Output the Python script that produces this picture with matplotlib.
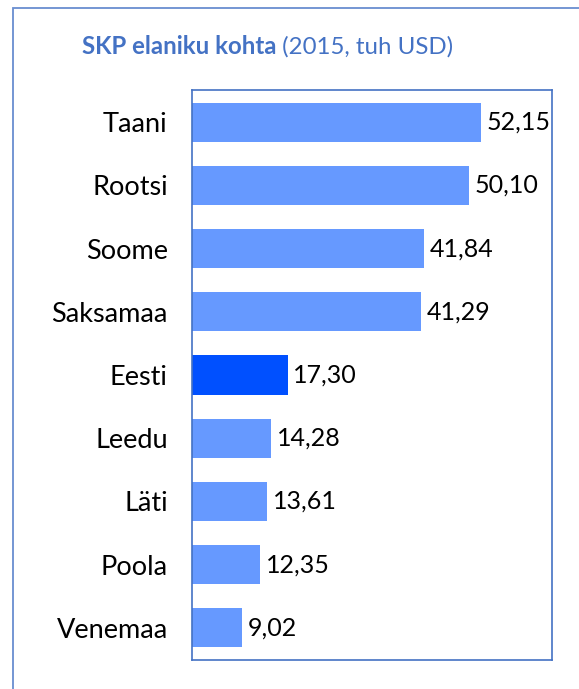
"""GDP per capita bar chart (2015, thousand USD)."""
import matplotlib
matplotlib.use("Agg")
import matplotlib.pyplot as plt
from matplotlib.patches import Rectangle

countries = ["Taani", "Rootsi", "Soome", "Saksamaa", "Eesti",
             "Leedu", "Läti", "Poola", "Venemaa"]
values = [52.15, 50.10, 41.84, 41.29, 17.30, 14.28, 13.61, 12.35, 9.02]
highlight = "Eesti"

BAR = "#6699ff"
HI = "#0050ff"
FRAME = "#4472c4"
TITLE = "#4472c4"

plt.rcParams["font.family"] = ["Lato", "DejaVu Sans"]

W, H = 579, 689
fig = plt.figure(figsize=(W / 100, H / 100), dpi=100)

# outer frame, runs off the right and bottom edges
fig.patches.append(Rectangle((13 / W, -0.1), 1.2, 1 - 8 / H + 0.1,
                             transform=fig.transFigure, fill=False,
                             edgecolor=FRAME, linewidth=1.3, alpha=0.8))

ax = fig.add_axes([192 / W, 1 - 660 / H, 360 / W, 570 / H])
ypos = list(range(len(countries)))
colors = [HI if c == highlight else BAR for c in countries]
ax.barh(ypos, values, height=0.62, color=colors)
ax.set_ylim(len(countries) - 0.49, -0.51)
ax.set_xlim(0, 65)
ax.set_yticks(ypos)
ax.set_yticklabels(countries, fontsize=19.5)
ax.tick_params(axis="y", length=0, pad=17.5)
ax.set_xticks([])
for s in ax.spines.values():
    s.set_color(FRAME)
    s.set_linewidth(1.2)

for y, v in zip(ypos, values):
    ax.annotate(f"{v:.2f}".replace(".", ","), (v, y), xytext=(4, 0),
                textcoords="offset points", va="center", ha="left",
                fontsize=18, color="black")

# title: bold part + regular part, centred together
t1 = fig.text(0, 1 - 47 / H, "SKP elaniku kohta", fontsize=17.3,
              fontweight="bold", color=TITLE, va="center", ha="left")
t2 = fig.text(0, 1 - 47 / H, " (2015, tuh USD)", fontsize=17.3,
              color=TITLE, va="center", ha="left")
r = fig.canvas.get_renderer()
w1 = t1.get_window_extent(r).width
w2 = t2.get_window_extent(r).width
x0 = 267.5 - (w1 + w2) / 2
t1.set_x(x0 / W)
t2.set_x((x0 + w1) / W)

fig.savefig("out.png", dpi=100)
